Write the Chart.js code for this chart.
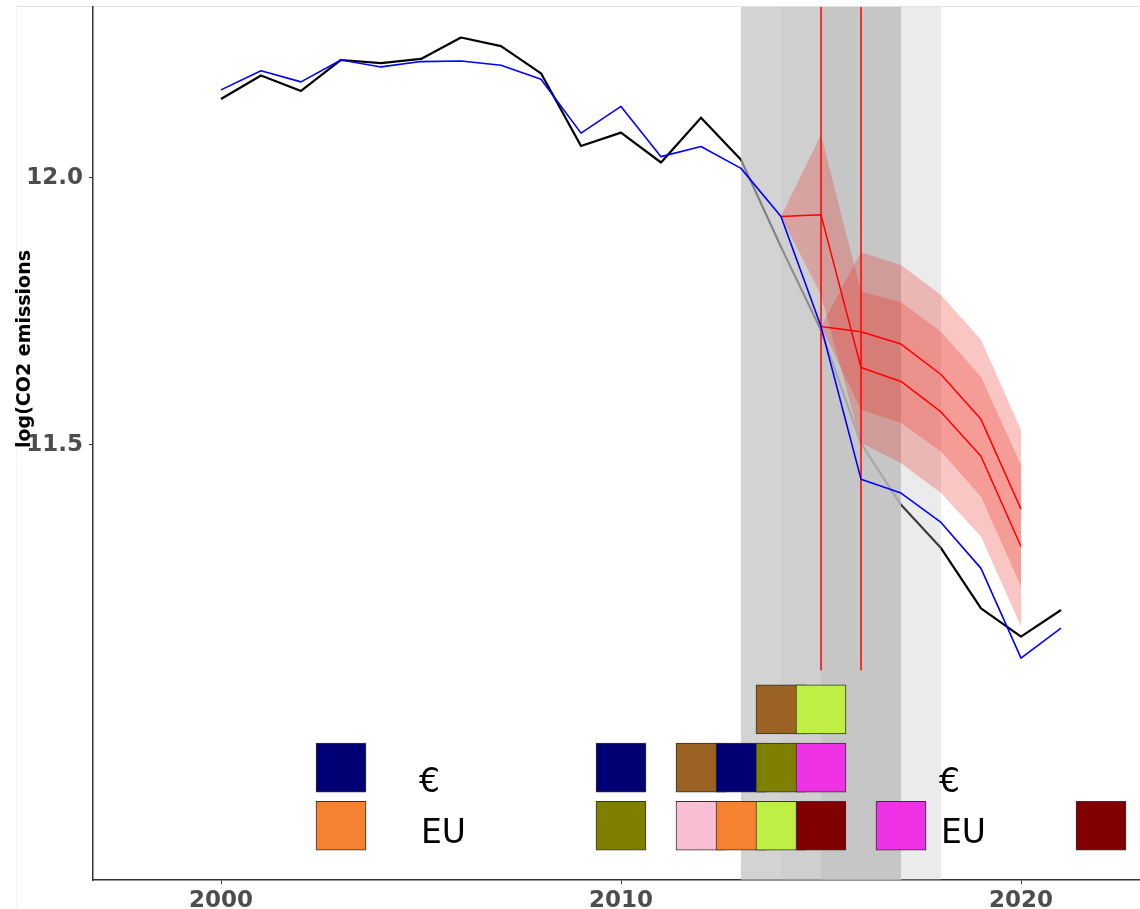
<!DOCTYPE html>
<html>
<head>
<meta charset="utf-8">
<script src="https://cdn.jsdelivr.net/npm/chart.js@4.4.0/dist/chart.umd.min.js"></script>
<style>
  html, body { margin: 0; padding: 0; background: #fff; }
  #wrap { width: 1140px; height: 909px; }
</style>
</head>
<body>
<div id="wrap"><canvas id="grafico" width="1140" height="909"></canvas></div>
<script>
// ===== Datos =====
const years = [2000, 2001, 2002, 2003, 2004, 2005, 2006, 2007, 2008, 2009, 2010,
               2011, 2012, 2013, 2014, 2015, 2016, 2017, 2018, 2019, 2020, 2021];
// serie negra
const blackSeries = [12.148, 12.192, 12.163, 12.221, 12.215, 12.223, 12.263, 12.247, 12.196, 12.060, 12.085,
                     12.029, 12.113, 12.034, 11.871, 11.715, 11.503, 11.388, 11.307, 11.194, 11.141, 11.191];
// serie azul
const blueSeries = [12.165, 12.201, 12.180, 12.221, 12.208, 12.218, 12.219, 12.211, 12.185, 12.084, 12.134,
                    12.040, 12.059, 12.018, 11.928, 11.722, 11.436, 11.410, 11.355, 11.269, 11.101, 11.157];

// pronóstico desde 2014
const fc1Years = [2014, 2015, 2016, 2017, 2018, 2019, 2020];
const fc1Mid   = [11.928, 11.931, 11.645, 11.619, 11.562, 11.479, 11.310];
const fc1Upper = [11.928, 12.081, 11.787, 11.768, 11.712, 11.628, 11.463];
const fc1Lower = [11.928, 11.781, 11.504, 11.466, 11.410, 11.328, 11.160];

// pronóstico desde 2015
const fc2Years = [2015, 2016, 2017, 2018, 2019, 2020];
const fc2Mid   = [11.722, 11.712, 11.689, 11.632, 11.548, 11.380];
const fc2Upper = [11.722, 11.861, 11.837, 11.781, 11.697, 11.528];
const fc2Lower = [11.722, 11.566, 11.541, 11.488, 11.403, 11.235];

// líneas verticales rojas
const vLineYears = [2015, 2016];
const vLineTop = 12.32;
const vLineBottom = 11.079;

// bandas grises
const bandStart = [2013, 2014, 2015, 2017];
const bandEnd   = [2014, 2015, 2017, 2018];
const bandAlpha = [0.68, 0.74, 0.88, 0.31];

// casillas de colores
const rowCenter = [11.005, 10.896, 10.787];
const tileYear  = [2003, 2003, 2010, 2010, 2012, 2012, 2013, 2013, 2014, 2014, 2014, 2015, 2015, 2015, 2017, 2022];
const tileRow   = [1, 2, 1, 2, 1, 2, 1, 2, 0, 1, 2, 0, 1, 2, 2, 2];
const tileColor = ['#000075', '#f58231', '#000075', '#808000', '#9a6324', '#fabed4', '#000075', '#f58231',
                   '#9a6324', '#808000', '#bfef45', '#bfef45', '#f032e6', '#800000', '#f032e6', '#800000'];

// textos
const noteText = ['€', 'EU', '€', 'EU'];
const noteX    = [2004.95, 2005.0, 2017.95, 2018.0];
const noteY    = [10.850, 10.755, 10.850, 10.755];

// ejes
const xTicks = [2000, 2010, 2020];
const yTicks = [11.5, 12.0];
const xMin = 1996.8, xMax = 2022.975;
const yMin = 10.6854, yMax = 12.3202;

// ===== Utilidades =====
const pts = (xs, ys) => xs.map((x, i) => ({ x, y: ys[i] }));
const TILE_HALF = 0.0459;

function lineSet(label, xs, ys, color, width, order) {
  return {
    label, data: pts(xs, ys), borderColor: color, borderWidth: width,
    pointRadius: 0, tension: 0, fill: false, order,
    borderJoinStyle: 'round', borderCapStyle: 'butt'
  };
}
function bandSet(label, xs, ys, fill, order) {
  return {
    label, data: pts(xs, ys), borderWidth: 0, borderColor: 'rgba(0,0,0,0)',
    backgroundColor: 'rgba(238,45,35,0.27)', pointRadius: 0, tension: 0, fill, order
  };
}

// ===== Plugins =====
const fondo = {
  id: 'fondo',
  beforeDraw(chart) {
    const c = chart.ctx;
    c.save();
    c.fillStyle = '#fff';
    c.fillRect(0, 0, chart.width, chart.height);
    c.strokeStyle = '#e2e2e2';
    c.lineWidth = 1;
    c.beginPath();
    c.moveTo(16, 6.5); c.lineTo(chart.width, 6.5);
    c.stroke();
    c.strokeStyle = '#f4f4f4';
    c.beginPath();
    c.moveTo(16.5, 6.5); c.lineTo(16.5, chart.height);
    c.stroke();
    c.restore();
  }
};

// bandas grises justo encima de la serie negra
const bandasGrises = {
  id: 'bandasGrises',
  afterDatasetDraw(chart, args) {
    if (args.index !== 0) return;
    const x = chart.scales.x, a = chart.chartArea, c = chart.ctx;
    c.save();
    bandStart.forEach((s, i) => {
      const x0 = x.getPixelForValue(s), x1 = x.getPixelForValue(bandEnd[i]);
      c.fillStyle = `rgba(190,190,190,${bandAlpha[i]})`;
      c.fillRect(x0, a.top, x1 - x0, a.bottom - a.top);
    });
    c.restore();
  }
};

const notas = {
  id: 'notas',
  afterDatasetsDraw(chart) {
    const c = chart.ctx, x = chart.scales.x, y = chart.scales.y;
    c.save();
    c.fillStyle = '#000';
    c.font = '33px "DejaVu Sans"';
    c.textAlign = 'left';
    c.textBaseline = 'alphabetic';
    noteText.forEach((t, i) => c.fillText(t, x.getPixelForValue(noteX[i]), y.getPixelForValue(noteY[i])));
    c.restore();
  }
};

const tituloY = {
  id: 'tituloY',
  afterDraw(chart) {
    const c = chart.ctx, y = chart.scales.y;
    c.save();
    c.translate(30, y.getPixelForValue(11.5) + 3);
    c.rotate(-Math.PI / 2);
    c.fillStyle = '#000';
    c.font = 'bold 19px "DejaVu Sans"';
    c.textAlign = 'left';
    c.textBaseline = 'alphabetic';
    c.fillText('log(CO2 emissions', 0, 0);
    c.restore();
  }
};

// ===== Chart.js =====
const tileData = tileYear.map((yr, i) => ({
  x: yr, y: [rowCenter[tileRow[i]] - TILE_HALF, rowCenter[tileRow[i]] + TILE_HALF]
}));

const datasets = [
  lineSet('negra', years, blackSeries, '#000000', 2.2, 20),
  bandSet('fc1 sup', fc1Years, fc1Upper, '+1', 15),
  bandSet('fc1 inf', fc1Years, fc1Lower, false, 15),
  bandSet('fc2 sup', fc2Years, fc2Upper, '+1', 14),
  bandSet('fc2 inf', fc2Years, fc2Lower, false, 14),
  lineSet('fc1', fc1Years, fc1Mid, '#ff0000', 1.5, 10),
  lineSet('fc2', fc2Years, fc2Mid, '#ff0000', 1.5, 10),
  ...vLineYears.map(v => lineSet('v' + v, [v, v], [vLineTop, vLineBottom], '#ff0000', 1.5, 9)),
  lineSet('azul', years, blueSeries, '#0000ff', 1.6, 5),
  {
    type: 'bar', label: 'casillas', data: tileData, backgroundColor: tileColor,
    borderColor: '#333333', borderWidth: 1, borderSkipped: false,
    barThickness: 50, grouped: false, order: 1
  }
];

const tickFont = { family: 'DejaVu Sans', weight: 'bold', size: 23 };

new Chart(document.getElementById('grafico').getContext('2d'), {
  type: 'line',
  data: { datasets },
  options: {
    responsive: false,
    animation: false,
    events: [],
    layout: { padding: { top: 7, left: 0, right: 0, bottom: 0 } },
    plugins: { legend: { display: false }, tooltip: { enabled: false } },
    scales: {
      x: {
        type: 'linear', min: xMin, max: xMax, offset: false,
        afterBuildTicks: s => { s.ticks = xTicks.map(v => ({ value: v })); },
        afterFit: s => { s.height = 29; s.paddingLeft = 0; s.paddingRight = 0; },
        ticks: { font: tickFont, color: '#4d4d4d', padding: 3, maxRotation: 0,
                 callback: v => String(v) },
        grid: { offset: false, drawOnChartArea: false, drawTicks: true, tickLength: 4,
                tickColor: '#333333', lineWidth: 1 },
        border: { display: true, color: '#333333', width: 1.5 }
      },
      y: {
        type: 'linear', min: yMin, max: yMax,
        afterBuildTicks: s => { s.ticks = yTicks.map(v => ({ value: v })); },
        afterFit: s => { s.width = 93; s.paddingTop = 0; s.paddingBottom = 0; },
        ticks: { font: tickFont, color: '#4d4d4d', padding: 6,
                 callback: v => Number(v).toFixed(1) },
        grid: { offset: false, drawOnChartArea: false, drawTicks: true, tickLength: 4,
                tickColor: '#333333', lineWidth: 1 },
        border: { display: true, color: '#333333', width: 1.5 }
      }
    }
  },
  plugins: [fondo, bandasGrises, notas, tituloY]
});
</script>
</body>
</html>
